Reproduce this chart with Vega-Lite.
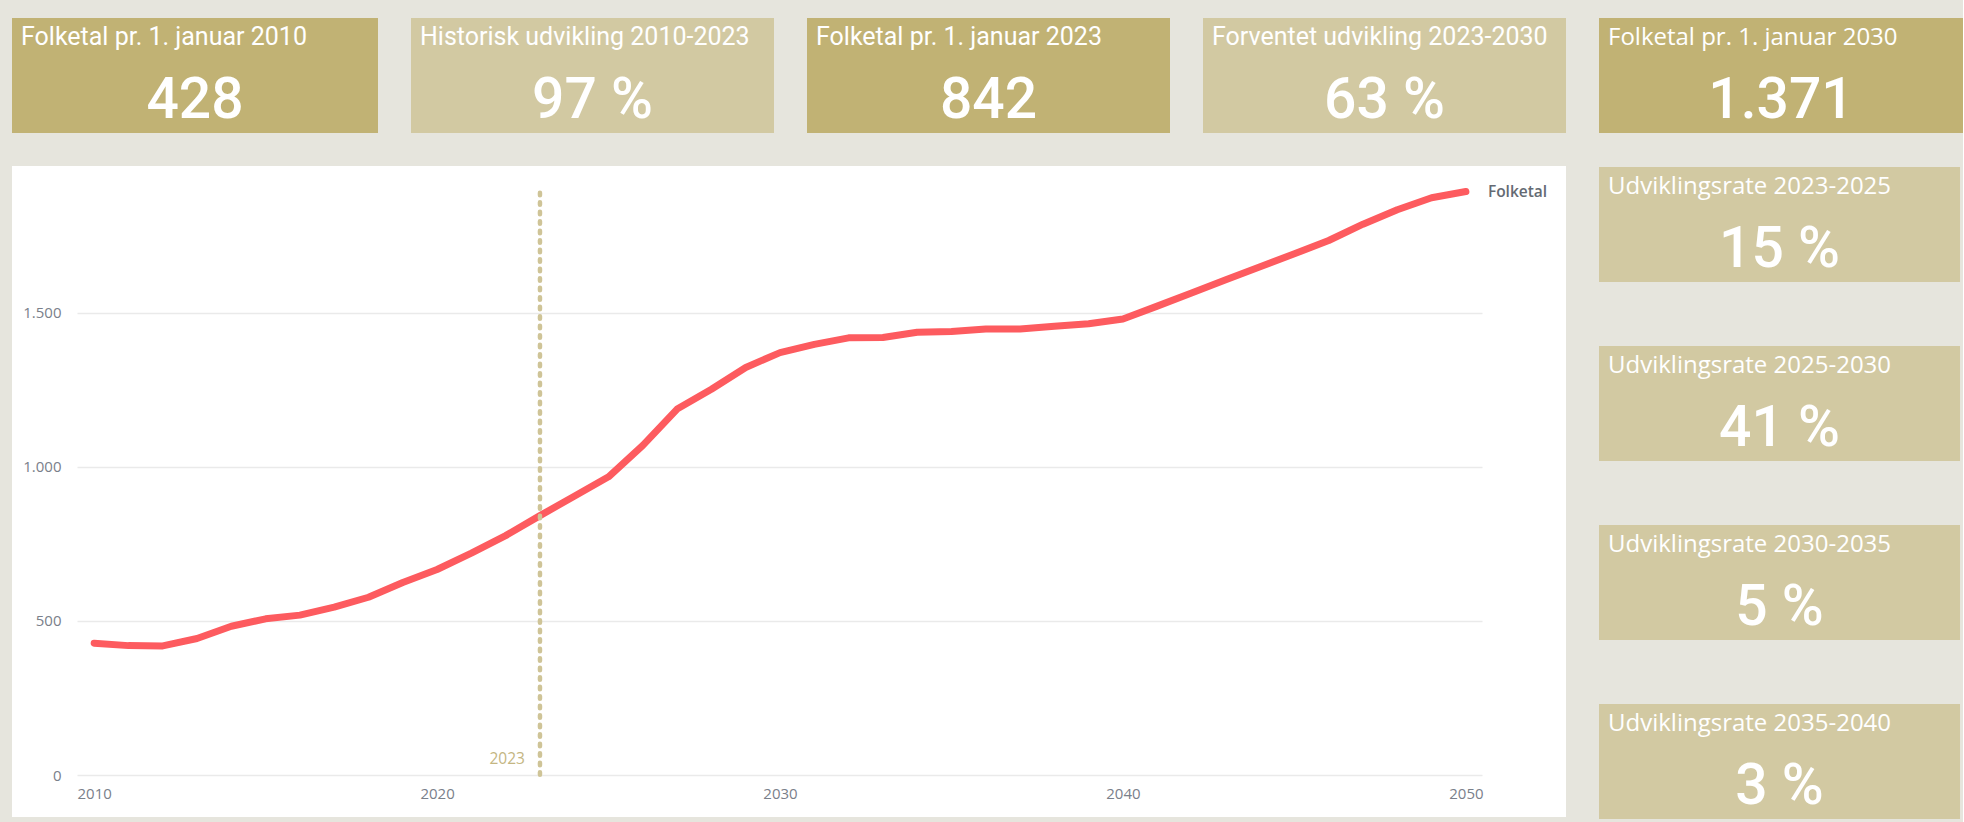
{
  "$schema": "https://vega.github.io/schema/vega-lite/v6.json",
  "background": "#E6E5DD",
  "padding": {"left": 12, "top": 18, "right": 0, "bottom": 3},
  "config": {
    "view": {"stroke": null},
    "title": {"anchor": "start", "frame": "group", "orient": "top", "offset": -32, "dx": 9, "color": "#FFFFFF", "font": "Roboto", "fontSize": 25, "fontWeight": 400, "baseline": "alphabetic"},
    "concat": {"spacing": 33}
  },
  "datasets": {
    "pop": [
      {"year": 2010, "folketal": 428}, {"year": 2011, "folketal": 420}, {"year": 2012, "folketal": 419},
      {"year": 2013, "folketal": 443}, {"year": 2014, "folketal": 483}, {"year": 2015, "folketal": 507},
      {"year": 2016, "folketal": 519}, {"year": 2017, "folketal": 545}, {"year": 2018, "folketal": 577},
      {"year": 2019, "folketal": 625}, {"year": 2020, "folketal": 667}, {"year": 2021, "folketal": 720},
      {"year": 2022, "folketal": 777}, {"year": 2023, "folketal": 842}, {"year": 2024, "folketal": 905},
      {"year": 2025, "folketal": 968}, {"year": 2026, "folketal": 1070}, {"year": 2027, "folketal": 1188},
      {"year": 2028, "folketal": 1252}, {"year": 2029, "folketal": 1323}, {"year": 2030, "folketal": 1371},
      {"year": 2031, "folketal": 1398}, {"year": 2032, "folketal": 1419}, {"year": 2033, "folketal": 1420},
      {"year": 2034, "folketal": 1437}, {"year": 2035, "folketal": 1440}, {"year": 2036, "folketal": 1448},
      {"year": 2037, "folketal": 1448}, {"year": 2038, "folketal": 1457}, {"year": 2039, "folketal": 1465},
      {"year": 2040, "folketal": 1480}, {"year": 2041, "folketal": 1522}, {"year": 2042, "folketal": 1565},
      {"year": 2043, "folketal": 1608}, {"year": 2044, "folketal": 1650}, {"year": 2045, "folketal": 1692},
      {"year": 2046, "folketal": 1735}, {"year": 2047, "folketal": 1788}, {"year": 2048, "folketal": 1835},
      {"year": 2049, "folketal": 1874}, {"year": 2050, "folketal": 1894}
    ],
    "cards": [
      {"card": "Folketal pr. 1. januar 2010", "value": "428"},
      {"card": "Historisk udvikling 2010-2023", "value": "97 %"},
      {"card": "Folketal pr. 1. januar 2023", "value": "842"},
      {"card": "Forventet udvikling 2023-2030", "value": "63 %"},
      {"card": "Folketal pr. 1. januar 2030", "value": "1.371"},
      {"card": "Udviklingsrate 2023-2025", "value": "15 %"},
      {"card": "Udviklingsrate 2025-2030", "value": "41 %"},
      {"card": "Udviklingsrate 2030-2035", "value": "5 %"},
      {"card": "Udviklingsrate 2035-2040", "value": "3 %"}
    ]
  },
  "hconcat": [
    {
      "vconcat": [
        {
          "hconcat": [
            {
              "width": 366, "height": 115,
              "view": {"fill": "#C1B274", "stroke": null},
              "title": {"text": "Folketal pr. 1. januar 2010"},
              "data": {"name": "cards"},
              "transform": [{"filter": "datum.card === 'Folketal pr. 1. januar 2010'"}],
              "mark": {"type": "text", "align": "center", "baseline": "alphabetic", "dy": 42, "font": "Roboto", "fontSize": 57, "fontWeight": 500, "color": "#FFFFFF"},
              "encoding": {"text": {"field": "value"}}
            },
            {
              "width": 363, "height": 115,
              "view": {"fill": "#D2C9A2", "stroke": null},
              "title": {"text": "Historisk udvikling 2010-2023"},
              "data": {"name": "cards"},
              "transform": [{"filter": "datum.card === 'Historisk udvikling 2010-2023'"}],
              "mark": {"type": "text", "align": "center", "baseline": "alphabetic", "dy": 42, "font": "Roboto", "fontSize": 57, "fontWeight": 500, "color": "#FFFFFF"},
              "encoding": {"text": {"field": "value"}}
            },
            {
              "width": 363, "height": 115,
              "view": {"fill": "#C1B274", "stroke": null},
              "title": {"text": "Folketal pr. 1. januar 2023"},
              "data": {"name": "cards"},
              "transform": [{"filter": "datum.card === 'Folketal pr. 1. januar 2023'"}],
              "mark": {"type": "text", "align": "center", "baseline": "alphabetic", "dy": 42, "font": "Roboto", "fontSize": 57, "fontWeight": 500, "color": "#FFFFFF"},
              "encoding": {"text": {"field": "value"}}
            },
            {
              "width": 363, "height": 115,
              "view": {"fill": "#D2C9A2", "stroke": null},
              "title": {"text": "Forventet udvikling 2023-2030"},
              "data": {"name": "cards"},
              "transform": [{"filter": "datum.card === 'Forventet udvikling 2023-2030'"}],
              "mark": {"type": "text", "align": "center", "baseline": "alphabetic", "dy": 42, "font": "Roboto", "fontSize": 57, "fontWeight": 500, "color": "#FFFFFF"},
              "encoding": {"text": {"field": "value"}}
            }
          ]
        },
        {
          "width": 1554, "height": 651,
          "view": {"fill": "#FFFFFF", "stroke": null},
          "data": {"name": "pop"},
          "layer": [
            {
              "mark": {"type": "line", "color": "#FD5B5F", "strokeWidth": 7, "strokeCap": "round", "strokeJoin": "round"},
              "encoding": {
                "x": {
                  "field": "year", "type": "quantitative",
                  "scale": {"domain": [2009.5, 2050.47], "range": [65, 1470], "nice": false, "zero": false},
                  "axis": {"values": [2010, 2020, 2030, 2040, 2050], "format": "d", "title": null, "domain": false, "ticks": false, "tickSize": 0, "grid": false, "labelPadding": 0, "offset": -31, "labelFlush": false, "labelFont": "Open Sans", "labelFontSize": 15, "labelColor": "#7A808A"}
                },
                "y": {
                  "field": "folketal", "type": "quantitative",
                  "scale": {"domain": [0, 1912], "range": [609, 20], "nice": false, "zero": true},
                  "axis": {"values": [0, 500, 1000, 1500], "labelExpr": "replace(format(datum.value, ','), ',', '.')", "title": null, "domain": false, "ticks": false, "tickSize": 0, "grid": true, "gridColor": "#EAEAEA", "gridWidth": 1.5, "labelPadding": 4, "offset": -53, "labelFlush": false, "labelFont": "Open Sans", "labelFontSize": 15, "labelColor": "#7A808A"}
                }
              }
            },
            {
              "transform": [{"filter": "datum.year === 2023"}],
              "mark": {"type": "rule", "color": "#CFC497", "strokeWidth": 4.5, "strokeDash": [2.5, 7], "strokeCap": "round"},
              "encoding": {
                "x": {"field": "year", "type": "quantitative"},
                "y": {"datum": 1, "type": "quantitative"},
                "y2": {"datum": 1912}
              }
            },
            {
              "transform": [{"filter": "datum.year === 2023"}],
              "mark": {"type": "text", "align": "right", "baseline": "middle", "dx": -15, "dy": -16, "font": "Open Sans", "fontSize": 15.5, "color": "#C4B682"},
              "encoding": {
                "x": {"field": "year", "type": "quantitative"},
                "y": {"datum": 1, "type": "quantitative"},
                "text": {"field": "year", "type": "quantitative", "format": "d"}
              }
            },
            {
              "transform": [{"filter": "datum.year === 2050"}],
              "mark": {"type": "text", "align": "left", "baseline": "middle", "dx": 22, "font": "Open Sans", "fontSize": 15.5, "fontWeight": 600, "color": "#646A73"},
              "encoding": {
                "x": {"field": "year", "type": "quantitative"},
                "y": {"field": "folketal", "type": "quantitative"},
                "text": {"value": "Folketal"}
              }
            }
          ]
        }
      ]
    },
    {
      "spacing": 34,
      "vconcat": [
        {
          "width": 364, "height": 115,
          "view": {"fill": "#C1B274", "stroke": null},
          "title": {"text": "Folketal pr. 1. januar 2030", "font": "Open Sans", "fontSize": 24},
          "data": {"name": "cards"},
          "transform": [{"filter": "datum.card === 'Folketal pr. 1. januar 2030'"}],
          "mark": {"type": "text", "align": "center", "baseline": "alphabetic", "dy": 42, "font": "Roboto", "fontSize": 57, "fontWeight": 500, "color": "#FFFFFF"},
          "encoding": {"text": {"field": "value"}}
        },
        {
          "spacing": 64,
          "vconcat": [
            {
              "width": 361, "height": 115,
              "view": {"fill": "#D2C9A2", "stroke": null},
              "title": {"text": "Udviklingsrate 2023-2025", "font": "Open Sans", "fontSize": 24},
              "data": {"name": "cards"},
              "transform": [{"filter": "datum.card === 'Udviklingsrate 2023-2025'"}],
              "mark": {"type": "text", "align": "center", "baseline": "alphabetic", "dy": 42, "font": "Roboto", "fontSize": 57, "fontWeight": 500, "color": "#FFFFFF"},
              "encoding": {"text": {"field": "value"}}
            },
            {
              "width": 361, "height": 115,
              "view": {"fill": "#D2C9A2", "stroke": null},
              "title": {"text": "Udviklingsrate 2025-2030", "font": "Open Sans", "fontSize": 24},
              "data": {"name": "cards"},
              "transform": [{"filter": "datum.card === 'Udviklingsrate 2025-2030'"}],
              "mark": {"type": "text", "align": "center", "baseline": "alphabetic", "dy": 42, "font": "Roboto", "fontSize": 57, "fontWeight": 500, "color": "#FFFFFF"},
              "encoding": {"text": {"field": "value"}}
            },
            {
              "width": 361, "height": 115,
              "view": {"fill": "#D2C9A2", "stroke": null},
              "title": {"text": "Udviklingsrate 2030-2035", "font": "Open Sans", "fontSize": 24},
              "data": {"name": "cards"},
              "transform": [{"filter": "datum.card === 'Udviklingsrate 2030-2035'"}],
              "mark": {"type": "text", "align": "center", "baseline": "alphabetic", "dy": 42, "font": "Roboto", "fontSize": 57, "fontWeight": 500, "color": "#FFFFFF"},
              "encoding": {"text": {"field": "value"}}
            },
            {
              "width": 361, "height": 115,
              "view": {"fill": "#D2C9A2", "stroke": null},
              "title": {"text": "Udviklingsrate 2035-2040", "font": "Open Sans", "fontSize": 24},
              "data": {"name": "cards"},
              "transform": [{"filter": "datum.card === 'Udviklingsrate 2035-2040'"}],
              "mark": {"type": "text", "align": "center", "baseline": "alphabetic", "dy": 42, "font": "Roboto", "fontSize": 57, "fontWeight": 500, "color": "#FFFFFF"},
              "encoding": {"text": {"field": "value"}}
            }
          ]
        }
      ]
    }
  ]
}
